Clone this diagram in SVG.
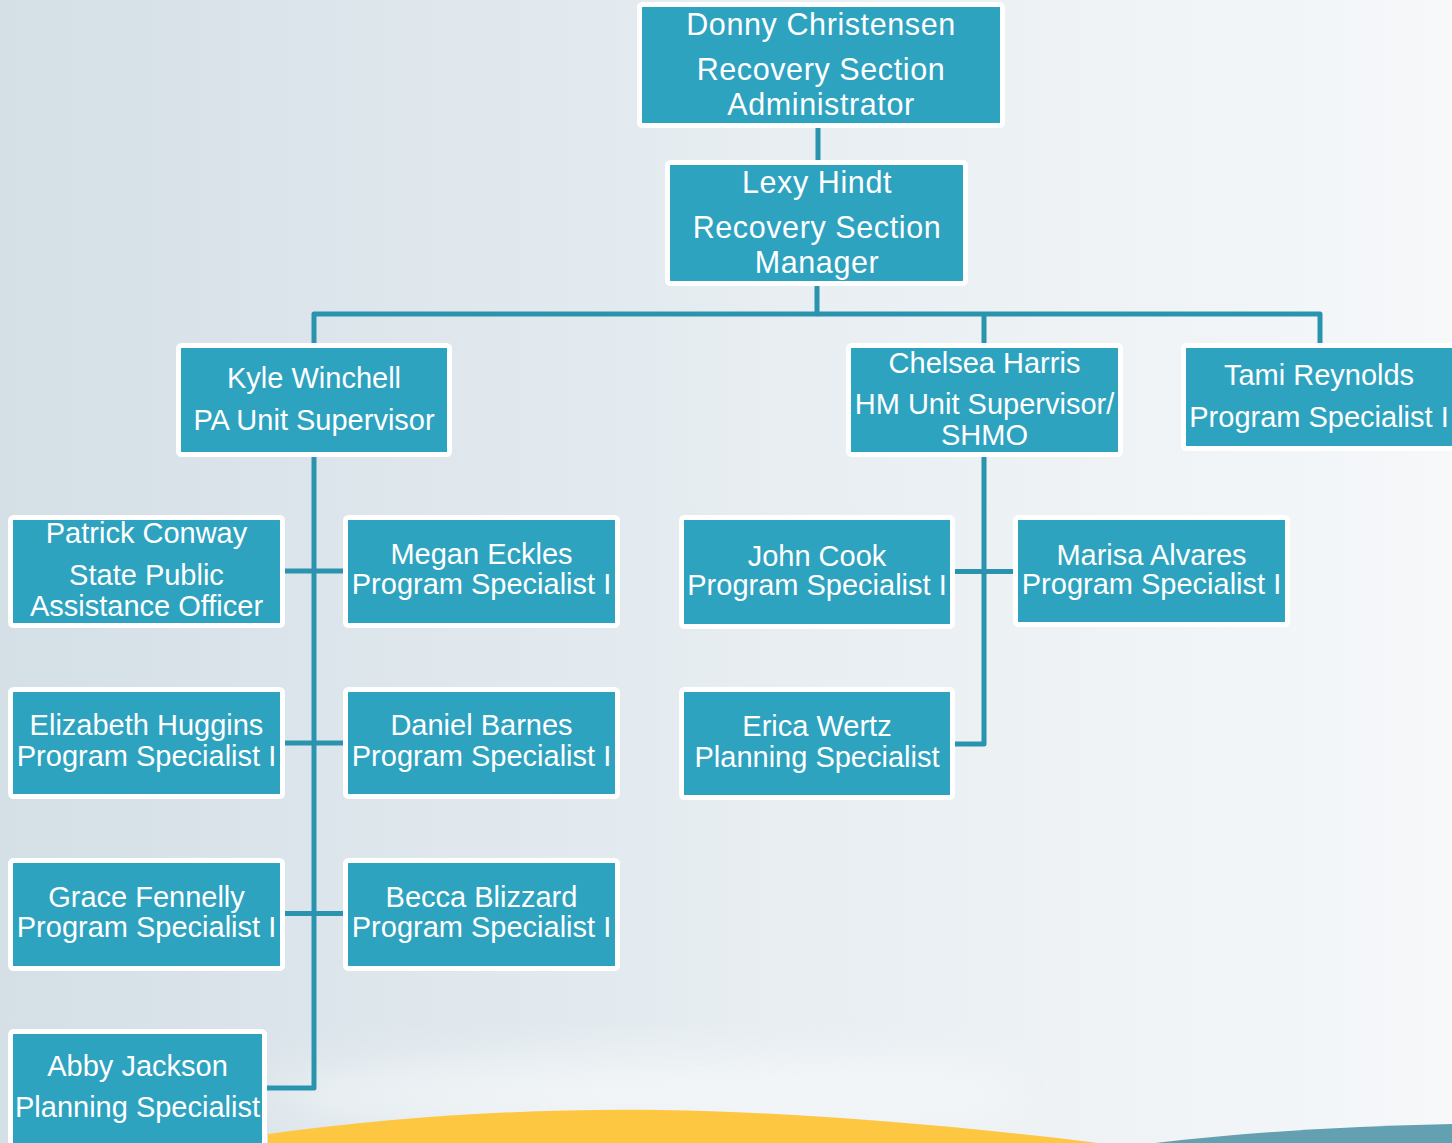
<svg xmlns="http://www.w3.org/2000/svg" width="1452" height="1143" viewBox="0 0 1452 1143">
<defs>
<linearGradient id="bg" x1="0" y1="0" x2="1" y2="0">
<stop offset="0" stop-color="#d4dfe6"/>
<stop offset="0.55" stop-color="#e8eef2"/>
<stop offset="1" stop-color="#f6f8fa"/>
</linearGradient>
<filter id="blur" x="-50%" y="-50%" width="200%" height="200%"><feGaussianBlur stdDeviation="25"/></filter>
<style>
.box{fill:#2ea3c0;stroke:#ffffff;stroke-width:5}
.t{fill:#ffffff;font-family:"Liberation Sans",Arial,sans-serif;font-size:29px;text-anchor:middle}
.tl{font-size:30.5px;letter-spacing:0.6px}
.c{fill:none;stroke:#2a93ad;stroke-width:5;stroke-linejoin:round}
</style>
</defs>
<rect width="1452" height="1143" fill="url(#bg)"/>
<ellipse cx="640" cy="1095" rx="380" ry="35" fill="#ffffff" opacity="0.55" filter="url(#blur)"/>
<path d="M268 1143 L268 1134 C400 1116 540 1108 660 1110 C800 1112 960 1126 1098 1143 Z" fill="#fdc741"/>
<path d="M1155 1143 C1250 1132 1350 1126 1452 1124 L1452 1143 Z" fill="#63a0b2"/>
<g id="connectors">
<path class="c" d="M818 128 V161"/>
<path class="c" d="M817 286 V314 H314 V345"/>
<path class="c" d="M817 314 H1320 V345"/>
<path class="c" d="M984 314 V345"/>
<path class="c" d="M314 457 V1088 H266"/>
<path class="c" d="M284 571 H345"/>
<path class="c" d="M284 743 H345"/>
<path class="c" d="M284 913.5 H345"/>
<path class="c" d="M984 457 V744 H954"/>
<path class="c" d="M954 571.5 H1015"/>
</g>
<g id="donny"><rect class="box" x="639.5" y="4.5" width="363" height="121" rx="3"/>
<text class="t tl" x="821" y="34.5">Donny Christensen</text>
<text class="t tl" x="821" y="80">Recovery Section</text>
<text class="t tl" x="821" y="114.5">Administrator</text></g>
<g id="lexy"><rect class="box" x="667.5" y="162.5" width="298" height="121" rx="3"/>
<text class="t tl" x="817" y="193">Lexy Hindt</text>
<text class="t tl" x="817" y="238">Recovery Section</text>
<text class="t tl" x="817" y="272.5">Manager</text></g>
<g id="kyle"><rect class="box" x="178.5" y="345.5" width="271" height="109" rx="3"/>
<text class="t" x="314" y="388">Kyle Winchell</text>
<text class="t" x="314" y="430">PA Unit Supervisor</text></g>
<g id="chelsea"><rect class="box" x="848.5" y="345.5" width="272" height="109" rx="3"/>
<text class="t" x="984.5" y="373">Chelsea Harris</text>
<text class="t" x="984.5" y="413.5">HM Unit Supervisor/</text>
<text class="t" x="984.5" y="445">SHMO</text></g>
<g id="tami"><rect class="box" x="1183.5" y="345.5" width="273" height="103" rx="3"/>
<text class="t" x="1319" y="385">Tami Reynolds</text>
<text class="t" x="1319" y="427">Program Specialist I</text></g>
<g id="patrick"><rect class="box" x="10.5" y="517.5" width="272" height="108" rx="3"/>
<text class="t" x="146.5" y="543">Patrick Conway</text>
<text class="t" x="146.5" y="585">State Public</text>
<text class="t" x="146.5" y="616">Assistance Officer</text></g>
<g id="megan"><rect class="box" x="345.5" y="517.5" width="272" height="108" rx="3"/>
<text class="t" x="481.5" y="564">Megan Eckles</text>
<text class="t" x="481.5" y="594">Program Specialist I</text></g>
<g id="elizabeth"><rect class="box" x="10.5" y="689.5" width="272" height="107" rx="3"/>
<text class="t" x="146.5" y="735">Elizabeth Huggins</text>
<text class="t" x="146.5" y="766">Program Specialist I</text></g>
<g id="daniel"><rect class="box" x="345.5" y="689.5" width="272" height="107" rx="3"/>
<text class="t" x="481.5" y="735">Daniel Barnes</text>
<text class="t" x="481.5" y="766">Program Specialist I</text></g>
<g id="grace"><rect class="box" x="10.5" y="860.5" width="272" height="108" rx="3"/>
<text class="t" x="146.5" y="907">Grace Fennelly</text>
<text class="t" x="146.5" y="937">Program Specialist I</text></g>
<g id="becca"><rect class="box" x="345.5" y="860.5" width="272" height="108" rx="3"/>
<text class="t" x="481.5" y="907">Becca Blizzard</text>
<text class="t" x="481.5" y="937">Program Specialist I</text></g>
<g id="abby"><rect class="box" x="10.5" y="1031.5" width="254" height="122" rx="3"/>
<text class="t" x="137.5" y="1076">Abby Jackson</text>
<text class="t" x="137.5" y="1117">Planning Specialist</text></g>
<g id="john"><rect class="box" x="681.5" y="517.5" width="271" height="109" rx="3"/>
<text class="t" x="817" y="566">John Cook</text>
<text class="t" x="817" y="595">Program Specialist I</text></g>
<g id="marisa"><rect class="box" x="1015.5" y="517.5" width="272" height="107" rx="3"/>
<text class="t" x="1151.5" y="565">Marisa Alvares</text>
<text class="t" x="1151.5" y="594">Program Specialist I</text></g>
<g id="erica"><rect class="box" x="681.5" y="689.5" width="271" height="108" rx="3"/>
<text class="t" x="817" y="736">Erica Wertz</text>
<text class="t" x="817" y="767">Planning Specialist</text></g>
</svg>
